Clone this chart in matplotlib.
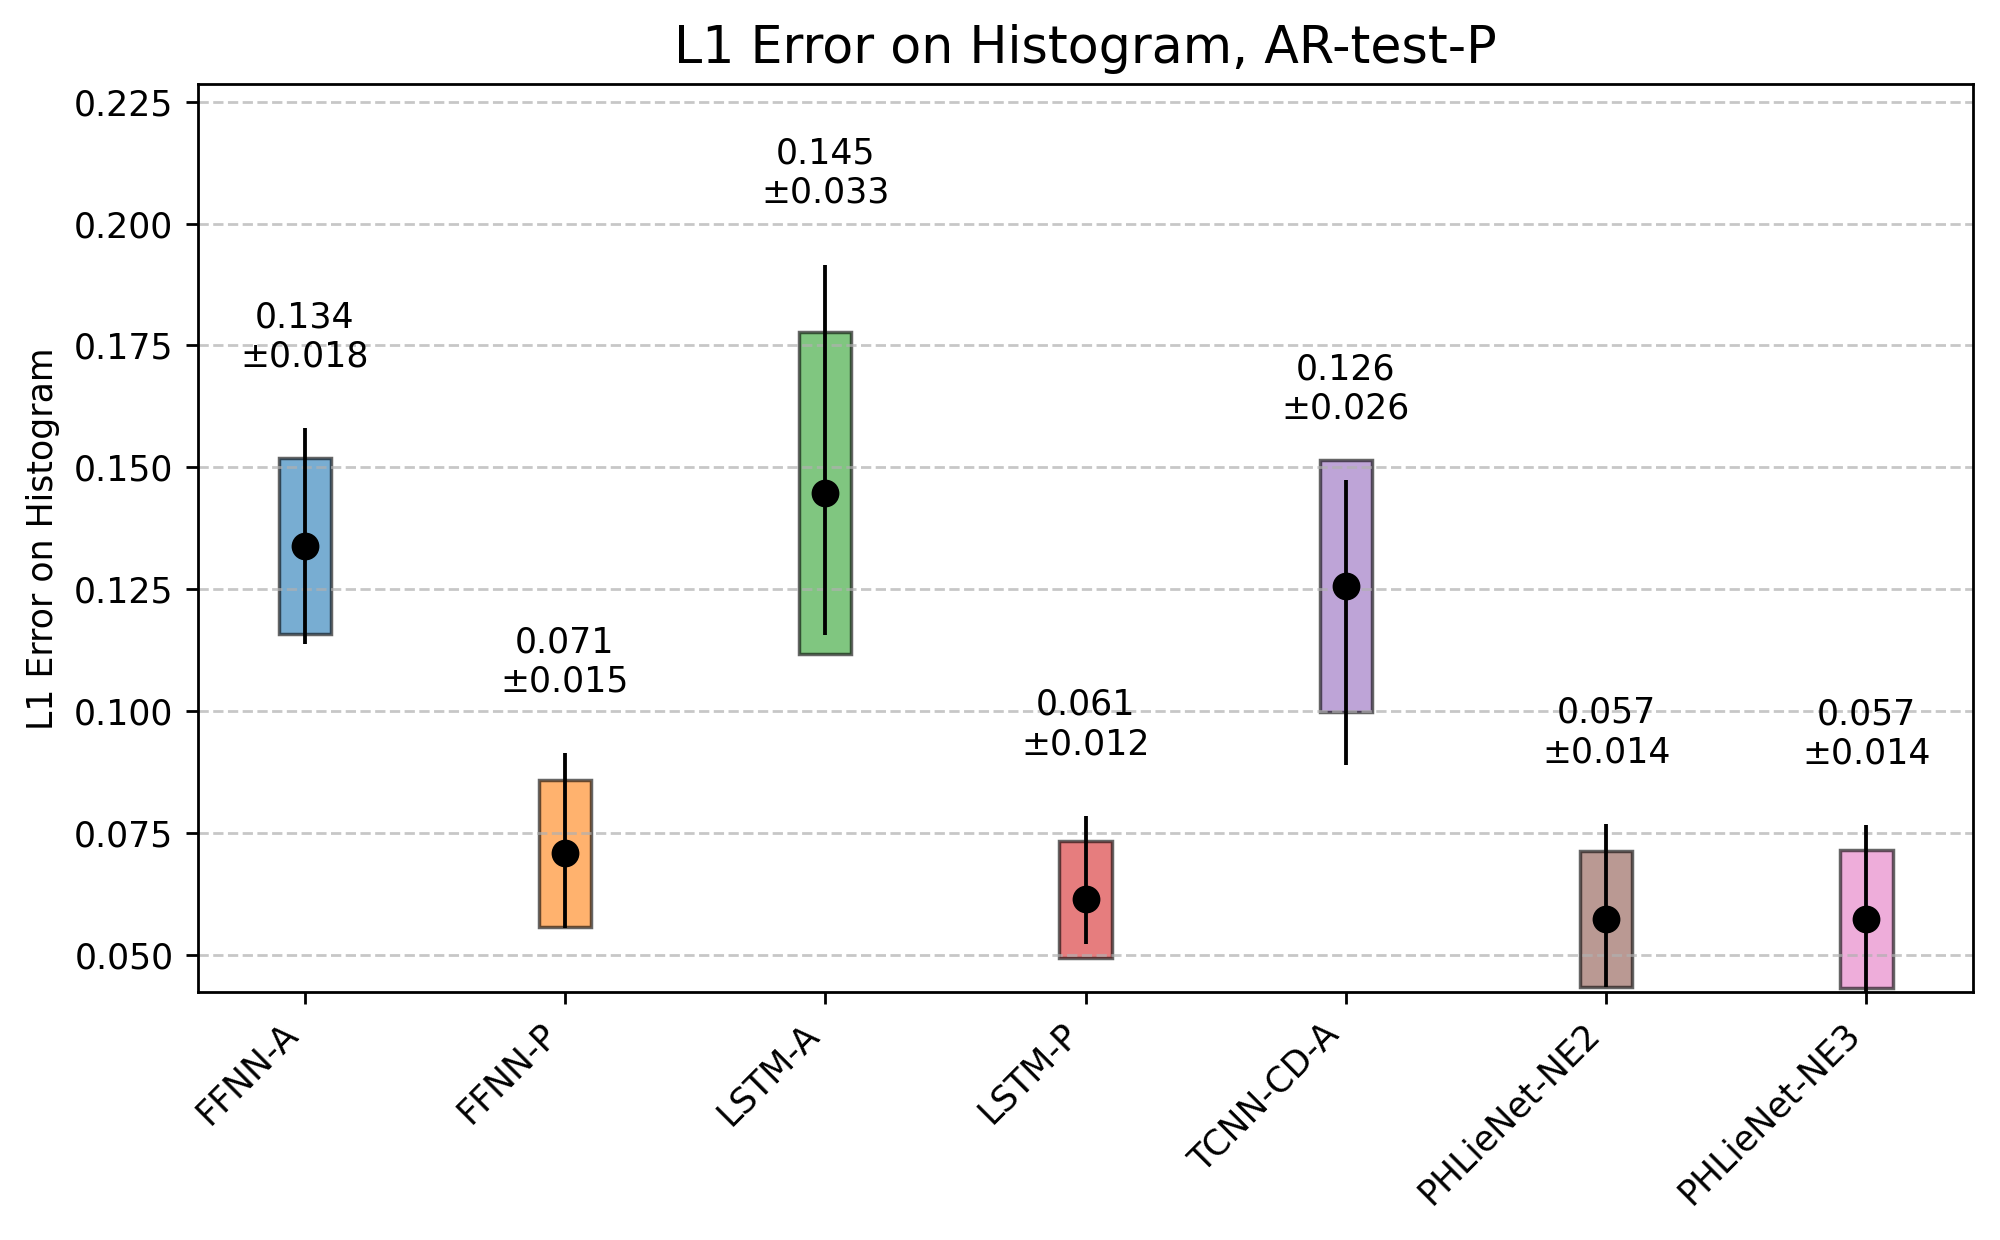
import matplotlib
matplotlib.use("Agg")
import matplotlib.pyplot as plt
import numpy as np

models = ['FFNN-A', 'FFNN-P', 'LSTM-A', 'LSTM-P', 'TCNN-CD-A', 'PHLieNet-NE2', 'PHLieNet-NE3']
means = [0.1339, 0.0708, 0.1448, 0.0614, 0.1257, 0.0573, 0.0574]
stds = [0.0181, 0.0150, 0.0330, 0.0120, 0.0259, 0.0140, 0.0142]
whisker_low = [0.1138, 0.0555, 0.1157, 0.0523, 0.0889, 0.0434, 0.0400]
whisker_high = [0.1580, 0.0914, 0.1916, 0.0785, 0.1474, 0.0769, 0.0766]
colors = ['tab:blue', 'tab:orange', 'tab:green', 'tab:red', 'tab:purple', 'tab:brown', 'tab:pink']

fig = plt.figure(figsize=(8, 4.96), dpi=250)
ax = fig.add_axes([0.0989, 0.1997, 0.8877, 0.7324])

x = np.arange(len(models))
m = np.array(means)
s = np.array(stds)
ax.bar(x, 2 * s, bottom=m - s, width=0.2, color=colors, alpha=0.6,
       edgecolor='black', linewidth=1.0)
ax.vlines(x, whisker_low, whisker_high, color='black', linewidth=1.1, zorder=3)
ax.plot(x, m, 'o', color='black', markersize=7, zorder=4)

for xi, mi, si, wh in zip(x, means, stds, whisker_high):
    ax.text(xi, wh + 0.0112, f"{mi:.3f}\n±{si:.3f}", ha='center', va='bottom', fontsize=10)

ax.set_xticks(x)
ax.set_xticklabels(models, rotation=45, ha='right')
ax.set_ylim(0.0423, 0.2286)
ax.set_yticks(np.arange(0.050, 0.2251, 0.025))
ax.set_ylabel('L1 Error on Histogram')
ax.set_title('L1 Error on Histogram, AR-test-P', fontsize=14.6)
ax.grid(axis='y', linestyle='--', alpha=0.7)

fig.savefig('out.png', dpi=250)
